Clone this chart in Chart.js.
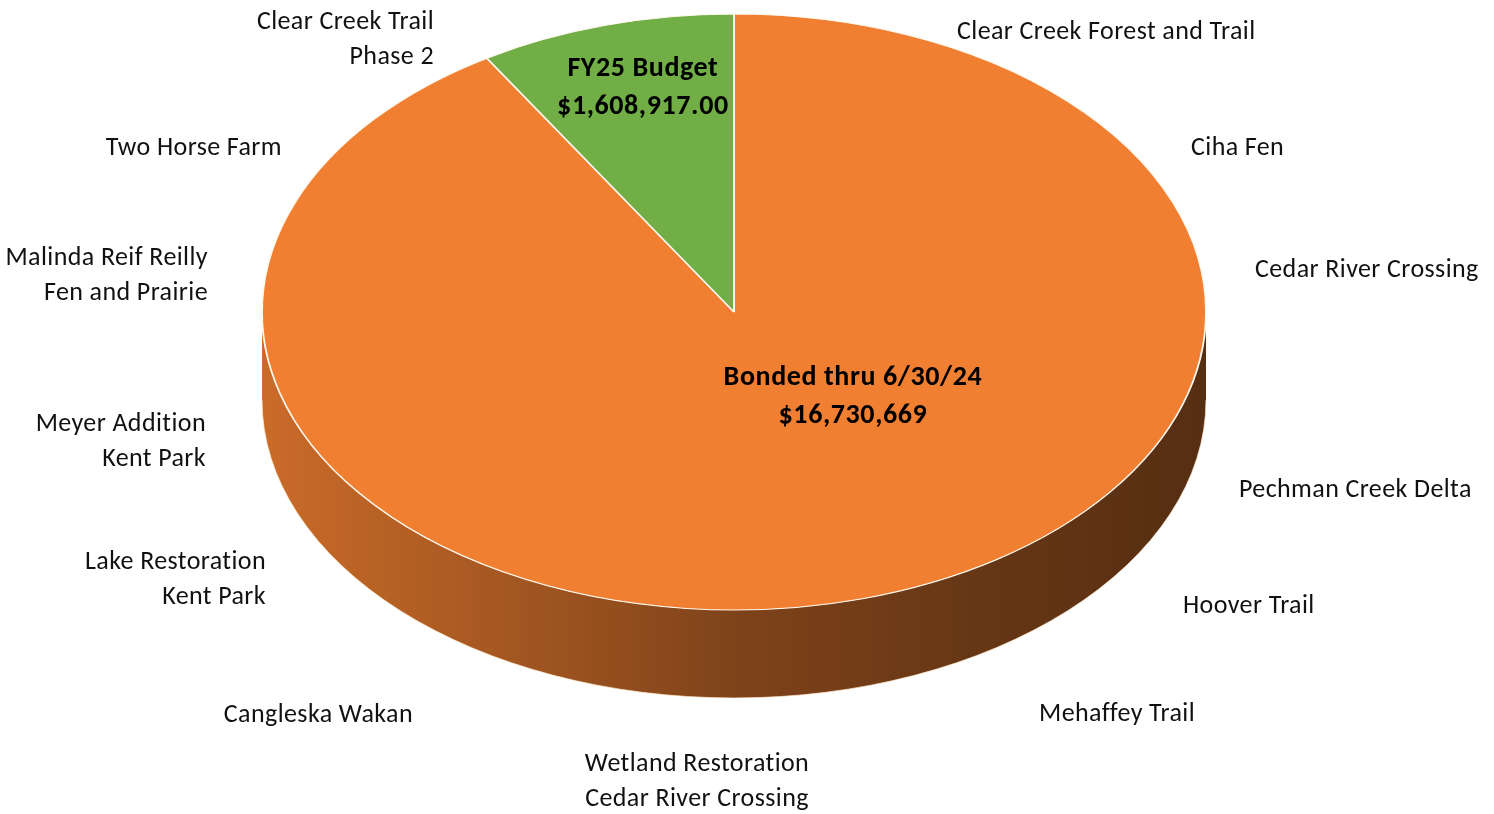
<!DOCTYPE html>
<html>
<head>
<meta charset="utf-8">
<script src="https://cdn.jsdelivr.net/npm/chart.js@4.4.1/dist/chart.umd.min.js"></script>
<style>
  html, body { margin: 0; background: #fff; }
  #wrap { width: 1494px; height: 814px; }
</style>
</head>
<body>
<div id="wrap"><canvas id="pie" width="1494" height="814"></canvas></div>
<script>
// funding split
const sliceLabels = ['Bonded thru 6/30/24', 'FY25 Budget'];
const sliceValues = [16730669, 1608917];
const sliceDecimals = [0, 2];
const sliceColors = ['#F07F31', '#71AE45'];

// projects listed around the pie
const projectNames = [
  ['Clear Creek Trail', 'Phase 2'],
  ['Two Horse Farm'],
  ['Malinda Reif Reilly', 'Fen and Prairie'],
  ['Meyer Addition', 'Kent Park'],
  ['Lake Restoration', 'Kent Park'],
  ['Cangleska Wakan'],
  ['Wetland Restoration', 'Cedar River Crossing'],
  ['Mehaffey Trail'],
  ['Hoover Trail'],
  ['Pechman Creek Delta'],
  ['Cedar River Crossing'],
  ['Ciha Fen'],
  ['Clear Creek Forest and Trail']
];

// where each project name sits (anchor x, first line y, alignment)
const projectSpots = [
  [434, 22, 'right'], [282, 148, 'right'], [208, 258, 'right'], [206, 424, 'right'],
  [266, 562, 'right'], [413, 715, 'right'], [697, 764, 'center'], [1039, 714, 'left'],
  [1183, 606, 'left'], [1239, 490, 'left'], [1255, 270, 'left'], [1191, 148, 'left'],
  [957, 32, 'left']
];

// value label offsets inside each slice, in units of the pie radii
const valueSpots = [[0.252, 0.285], [-0.193, -0.752]];

const PIE_RX = 472;
const PIE_RY = 298;
const DEPTH = 88;
const FONT = 'Carlito, Calibri, Lato, "Noto Sans", sans-serif';

function shade(hex, f) {
  const n = parseInt(hex.slice(1), 16);
  const r = Math.round(((n >> 16) & 255) * f);
  const g = Math.round(((n >> 8) & 255) * f);
  const b = Math.round((n & 255) * f);
  return `rgb(${r},${g},${b})`;
}

function money(v, d) {
  return '$' + v.toLocaleString('en-US', { minimumFractionDigits: d, maximumFractionDigits: d });
}

const pie3d = {
  id: 'pie3d',
  beforeDatasetsDraw(chart) {
    const ctx = chart.ctx;
    const arcs = chart.getDatasetMeta(0).data;
    const cx = arcs[0].x, cy = arcs[0].y, r = arcs[0].outerRadius;

    // side wall: only the front half (0..PI) is visible
    arcs.forEach((arc, i) => {
      for (const off of [0, 2 * Math.PI]) {
        const a0 = Math.max(arc.startAngle, off);
        const a1 = Math.min(arc.endAngle, off + Math.PI);
        if (a1 <= a0) continue;
        const grad = ctx.createLinearGradient(cx - PIE_RX, 0, cx + PIE_RX, 0);
        [[0, 0.84], [0.3, 0.66], [0.5, 0.53], [0.75, 0.43], [1, 0.36]]
          .forEach(([p, f]) => grad.addColorStop(p, shade(sliceColors[i], f)));
        ctx.save();
        ctx.beginPath();
        ctx.ellipse(cx, cy, PIE_RX, PIE_RY, 0, a0, a1);
        ctx.ellipse(cx, cy + DEPTH, PIE_RX, PIE_RY, 0, a1, a0, true);
        ctx.closePath();
        ctx.fillStyle = grad;
        ctx.fill();
        ctx.beginPath();
        ctx.ellipse(cx, cy + DEPTH, PIE_RX, PIE_RY, 0, a0, a1);
        ctx.strokeStyle = 'rgba(255,235,210,0.7)';
        ctx.lineWidth = 1;
        ctx.stroke();
        ctx.restore();
      }
    });

    // squash the top face into an ellipse
    ctx.save();
    ctx.translate(cx, cy);
    ctx.scale(PIE_RX / r, PIE_RY / r);
    ctx.translate(-cx, -cy);
  },
  afterDatasetsDraw(chart) {
    const ctx = chart.ctx;
    ctx.restore();
    const arcs = chart.getDatasetMeta(0).data;
    const cx = arcs[0].x, cy = arcs[0].y;

    ctx.save();
    ctx.fillStyle = '#000';
    ctx.textAlign = 'center';
    ctx.textBaseline = 'middle';
    ctx.font = `bold 28px ${FONT}`;
    ctx.letterSpacing = '0.6px';
    sliceLabels.forEach((lab, i) => {
      const x = cx + valueSpots[i][0] * PIE_RX;
      const y = cy + valueSpots[i][1] * PIE_RY;
      ctx.fillText(lab, x, y - 19);
      ctx.fillText(money(sliceValues[i], sliceDecimals[i]), x, y + 19);
    });

    ctx.font = `26px ${FONT}`;
    ctx.letterSpacing = '0.4px';
    ctx.fillStyle = '#111';
    projectNames.forEach((lines, i) => {
      const [x, y, align] = projectSpots[i];
      ctx.textAlign = align;
      lines.forEach((t, k) => ctx.fillText(t, x, y + k * 35));
    });
    ctx.restore();
  }
};

new Chart(document.getElementById('pie'), {
  type: 'pie',
  data: {
    labels: sliceLabels,
    datasets: [{
      data: sliceValues,
      backgroundColor: sliceColors,
      borderColor: '#FFF8EE',
      borderWidth: 1.2
    }]
  },
  options: {
    responsive: false,
    animation: false,
    layout: { padding: { left: 0, right: 26, top: 0, bottom: 190 } },
    plugins: { legend: { display: false }, tooltip: { enabled: false } }
  },
  plugins: [pie3d]
});
</script>
</body>
</html>
